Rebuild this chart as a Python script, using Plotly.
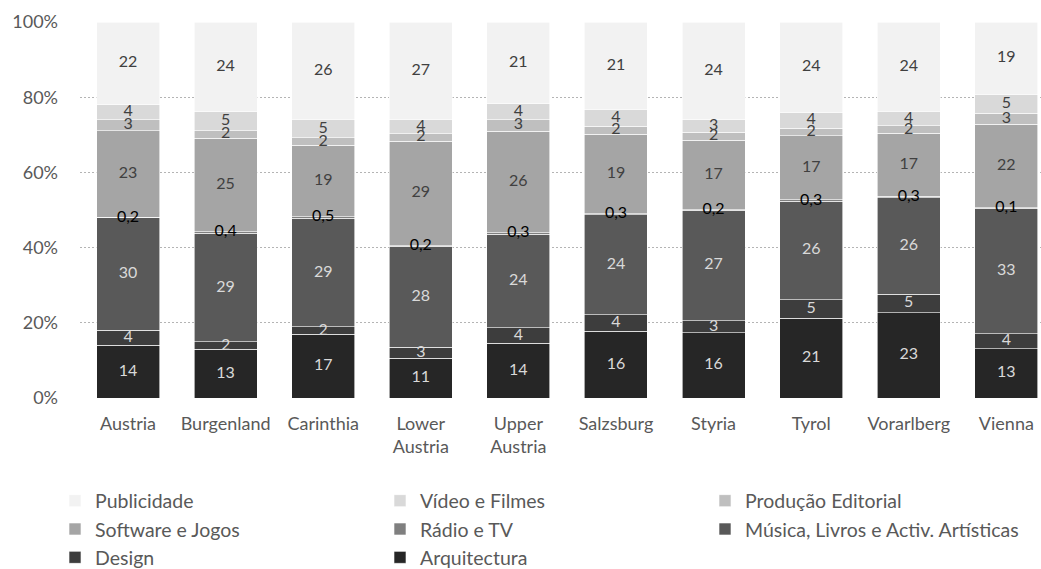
import plotly.graph_objects as go

# Regions (x categories)
regions = ["Austria", "Burgenland", "Carinthia", "Lower<br>Austria", "Upper<br>Austria",
           "Salzsburg", "Styria", "Tyrol", "Vorarlberg", "Vienna"]

# Sector shares per region (bottom of the stack first)
arquitectura = [14, 13, 17, 11, 14, 16, 16, 21, 23, 13]
design = [4, 2, 2, 3, 4, 4, 3, 5, 5, 4]
musica = [30, 29, 29, 28, 24, 24, 27, 26, 26, 33]
radio_tv = [0.2, 0.4, 0.5, 0.2, 0.3, 0.3, 0.2, 0.3, 0.3, 0.1]
software = [23, 25, 19, 29, 26, 19, 17, 17, 17, 22]
producao = [3, 2, 2, 2, 3, 2, 2, 2, 2, 3]
video = [4, 5, 5, 4, 4, 4, 3, 4, 4, 5]
publicidade = [22, 24, 26, 27, 21, 21, 24, 24, 24, 19]

series = [
    ("Arquitectura", arquitectura, "#262626", "#d9d9d9"),
    ("Design", design, "#3d3d3d", "#d9d9d9"),
    ("Música, Livros e Activ. Artísticas", musica, "#595959", "#d9d9d9"),
    ("Rádio e TV", radio_tv, "#7f7f7f", "#000000"),
    ("Software e Jogos", software, "#a5a5a5", "#404040"),
    ("Produção Editorial", producao, "#bfbfbf", "#404040"),
    ("Vídeo e Filmes", video, "#d9d9d9", "#404040"),
    ("Publicidade", publicidade, "#f2f2f2", "#404040"),
]

FONT = "Lato"
xpos = list(range(len(regions)))


def fmt(v):
    return f"{v:g}".replace(".", ",")


fig = go.Figure()

# Stacked bars (normalised to 100 %)
for name, vals, color, _ in series:
    fig.add_trace(go.Bar(
        name=name,
        x=xpos,
        y=vals,
        marker=dict(color=color, line=dict(color="white", width=0.6)),
        hoverinfo="skip",
    ))

# Value labels, centred in each segment and drawn above all bars
totals = [sum(s[1][i] for s in series) for i in xpos]
base = [0.0] * len(xpos)
for name, vals, _, txtcolor in series:
    mids = []
    for i, v in enumerate(vals):
        mids.append((base[i] + v / 2) / totals[i] * 100)
        base[i] += v
    fig.add_trace(go.Scatter(
        x=xpos,
        y=mids,
        mode="text",
        text=[fmt(v) for v in vals],
        textposition="middle center",
        textfont=dict(family=FONT, size=16, color=txtcolor),
        showlegend=False,
        hoverinfo="skip",
        cliponaxis=False,
    ))

fig.update_layout(
    width=1041,
    height=569,
    margin=dict(l=80, r=0, t=22, b=171, autoexpand=False),
    barmode="stack",
    barnorm="percent",
    bargap=0.3545,
    plot_bgcolor="white",
    paper_bgcolor="white",
    font=dict(family=FONT, size=18, color="#595959"),
    legend=dict(
        orientation="h",
        traceorder="reversed",
        x=-0.026, xanchor="left",
        y=-0.222, yanchor="top",
        entrywidth=280, entrywidthmode="pixels",
        font=dict(family=FONT, size=19.5, color="#595959"),
        bgcolor="rgba(0,0,0,0)",
    ),
)

fig.update_xaxes(
    type="linear",
    tickmode="array",
    tickvals=xpos,
    ticktext=regions,
    range=[-0.492, 9.355],
    showgrid=False,
    zeroline=False,
    showline=False,
    ticks="",
    ticklabelstandoff=13,
    tickfont=dict(family=FONT, size=18, color="#595959"),
)

fig.update_yaxes(
    range=[0, 100],
    dtick=20,
    ticksuffix="%",
    showgrid=True,
    gridcolor="#b4b4b4",
    griddash="2px,2px",
    gridwidth=1,
    zeroline=False,
    showline=False,
    ticks="",
    ticklabelstandoff=21,
    tickfont=dict(family=FONT, size=18, color="#595959"),
)

fig.write_html("out.html")
